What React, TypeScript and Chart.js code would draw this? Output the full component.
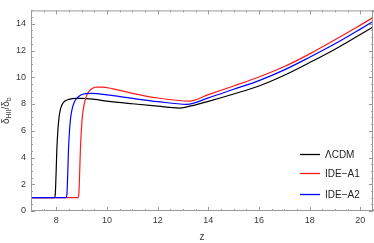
import React, { useEffect, useRef } from "react";
import { Chart, registerables } from "chart.js";

Chart.register(...registerables);

// ---- data ----
const zLCDM = [7, 7.92, 7.96, 7.99, 8.02, 8.06, 8.1, 8.16, 8.24, 8.34, 8.5, 8.75, 9.0, 9.5, 10, 11, 12, 12.85, 13.15, 14, 15, 16, 17, 18, 19, 20, 20.5];
const dLCDM = [1, 1, 1.3, 2.8, 4.6, 6.0, 6.9, 7.6, 8.0, 8.22, 8.35, 8.42, 8.42, 8.35, 8.22, 8.02, 7.84, 7.7, 7.78, 8.2, 8.75, 9.35, 10.15, 11.1, 12.1, 13.2, 13.76];

const zA1 = [7, 8.85, 8.89, 8.92, 8.95, 8.99, 9.03, 9.09, 9.17, 9.27, 9.4, 9.6, 9.8, 10.2, 11, 12, 13.25, 14, 15, 16, 17, 18, 19, 20, 20.5];
const dA1 = [1, 1, 1.3, 2.8, 4.6, 6.1, 7.1, 7.9, 8.5, 8.9, 9.15, 9.26, 9.26, 9.15, 8.8, 8.45, 8.22, 8.7, 9.35, 10.02, 10.8, 11.75, 12.8, 13.9, 14.46];

const zA2 = [7, 8.38, 8.42, 8.45, 8.48, 8.52, 8.56, 8.62, 8.7, 8.8, 8.95, 9.15, 9.4, 10, 11, 12, 13.15, 14, 15, 16, 17, 18, 19, 20, 20.5];
const dA2 = [1, 1, 1.3, 2.8, 4.6, 6.0, 6.9, 7.6, 8.1, 8.4, 8.65, 8.78, 8.8, 8.68, 8.42, 8.18, 7.98, 8.46, 9.1, 9.75, 10.55, 11.5, 12.5, 13.6, 14.17];

const seriesNames = ["ΛCDM", "IDE−A1", "IDE−A2"];
const seriesColors = ["#000000", "#ff1a1a", "#0000ff"];

const xTicks = [8, 10, 12, 14, 16, 18, 20];
const yTicks = [0, 2, 4, 6, 8, 10, 12, 14];
const xMin = 7, xMax = 20.5, yMin = 0, yMax = 15;
const minorStep = 0.5;

const FONT = "'Liberation Sans', Arial, sans-serif";
const FRAME = "#9a9a9a";
const LABEL = "#3a3a3a";

function toPts(xs: number[], ys: number[]) {
  return xs.map((x, i) => ({ x, y: ys[i] }));
}

const framePlugin = {
  id: "mmaFrame",
  afterDatasetsDraw(chart: any) {
    const { ctx, chartArea: a, scales } = chart;
    const xs = scales.x, ys = scales.y;
    ctx.save();
    ctx.strokeStyle = FRAME;
    ctx.lineWidth = 1;
    ctx.strokeRect(a.left + 0.5, a.top + 0.5, a.right - a.left - 1, a.bottom - a.top - 1);
    ctx.beginPath();
    for (let v = Math.ceil(xMin / minorStep) * minorStep; v <= xMax + 1e-9; v += minorStep) {
      const major = Math.abs(v - Math.round(v / 2) * 2) < 1e-9;
      const len = major ? 4 : 2;
      const px = Math.round(xs.getPixelForValue(v)) + 0.5;
      ctx.moveTo(px, a.bottom);
      ctx.lineTo(px, a.bottom - len);
      ctx.moveTo(px, a.top);
      ctx.lineTo(px, a.top + len);
    }
    for (let v = yMin; v <= yMax + 1e-9; v += minorStep) {
      const major = Math.abs(v - Math.round(v / 2) * 2) < 1e-9;
      const len = major ? 4 : 2;
      const py = Math.round(ys.getPixelForValue(v)) + 0.5;
      ctx.moveTo(a.left, py);
      ctx.lineTo(a.left + len, py);
      ctx.moveTo(a.right, py);
      ctx.lineTo(a.right - len, py);
    }
    ctx.stroke();
    ctx.restore();
  },
  afterDraw(chart: any) {
    const { ctx, chartArea: a } = chart;
    ctx.save();
    // legend
    const lx = 300, ly = [154.5, 173.5, 194.5];
    ctx.font = `10px ${FONT}`;
    ctx.textBaseline = "middle";
    ctx.textAlign = "left";
    seriesNames.forEach((n, i) => {
      ctx.strokeStyle = seriesColors[i];
      ctx.lineWidth = 1.3;
      ctx.beginPath();
      ctx.moveTo(lx, ly[i]);
      ctx.lineTo(lx + 20, ly[i]);
      ctx.stroke();
      ctx.fillStyle = "#222";
      ctx.fillText(n, lx + 25, ly[i] + 0.5);
    });
    // x title
    ctx.fillStyle = LABEL;
    ctx.textAlign = "center";
    ctx.font = `10px ${FONT}`;
    ctx.fillText("z", (a.left + a.right) / 2, 237);
    // y title with subscripts
    ctx.translate(6.5, (a.top + a.bottom) / 2);
    ctx.rotate(-Math.PI / 2);
    const big = `10px ${FONT}`, small = `7px ${FONT}`;
    const parts: [string, string, number][] = [
      ["δ", big, 0], ["HII", small, 2.5], ["/δ", big, 0], ["b", small, 2.5],
    ];
    let w = 0;
    parts.forEach(([t, f]) => { ctx.font = f; w += ctx.measureText(t).width; });
    let x = -w / 2;
    ctx.textAlign = "left";
    parts.forEach(([t, f, dy]) => {
      ctx.font = f;
      ctx.fillText(t, x, dy);
      x += ctx.measureText(t).width;
    });
    ctx.restore();
  },
};

export default function App() {
  const ref = useRef<HTMLCanvasElement | null>(null);
  useEffect(() => {
    document.body.style.margin = "0";
    const canvas = ref.current!;
    const chart = new Chart(canvas, {
      type: "line",
      data: {
        datasets: [
          { label: seriesNames[2], data: toPts(zA2, dA2), borderColor: seriesColors[2], order: 0 },
          { label: seriesNames[1], data: toPts(zA1, dA1), borderColor: seriesColors[1], order: 1 },
          { label: seriesNames[0], data: toPts(zLCDM, dLCDM), borderColor: seriesColors[0], order: 2 },
        ].map((d) => ({
          ...d,
          borderWidth: 1.2,
          pointRadius: 0,
          fill: false,
          cubicInterpolationMode: "monotone" as const,
        })),
      },
      options: {
        animation: false,
        responsive: false,
        parsing: false as any,
        layout: { padding: { top: 1, right: 1, left: 0, bottom: 0 } },
        plugins: { legend: { display: false }, tooltip: { enabled: false } },
        scales: {
          x: {
            type: "linear",
            min: xMin,
            max: xMax,
            afterBuildTicks: (s: any) => { s.ticks = xTicks.map((v) => ({ value: v })); },
            afterFit: (s: any) => { s.height = 32; },
            grid: { display: false, drawTicks: false },
            border: { display: false },
            ticks: { font: { size: 9, family: FONT }, color: LABEL, padding: 4, maxRotation: 0, autoSkip: false },
          },
          y: {
            type: "linear",
            min: yMin,
            max: yMax,
            afterBuildTicks: (s: any) => { s.ticks = yTicks.map((v) => ({ value: v })); },
            afterFit: (s: any) => { s.width = 31; },
            grid: { display: false, drawTicks: false },
            border: { display: false },
            ticks: { font: { size: 9, family: FONT }, color: LABEL, padding: 5, autoSkip: false },
          },
        },
      },
      plugins: [framePlugin],
    });
    return () => chart.destroy();
  }, []);
  return <canvas ref={ref} width={374} height={243} style={{ display: "block" }} />;
}
